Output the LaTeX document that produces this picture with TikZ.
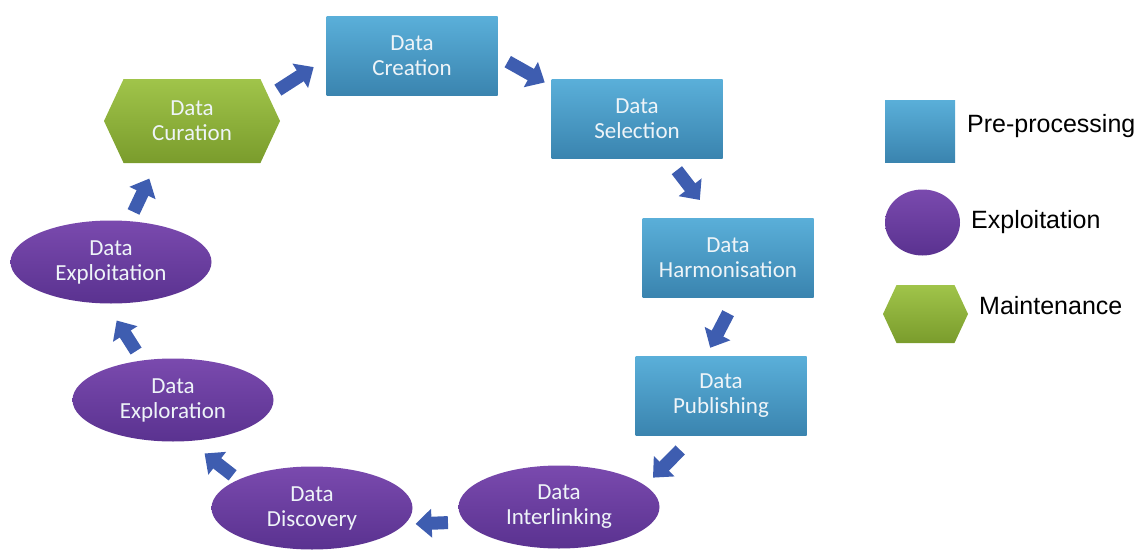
\documentclass[tikz,border=0pt]{standalone}
\usepackage{fontspec}
\setmainfont{Carlito}
\newfontfamily\legendfont{Liberation Sans}
\usetikzlibrary{shapes.geometric,shapes.symbols,arrows.meta}
\definecolor{boxtop}{HTML}{5AAFD9}
\definecolor{boxbot}{HTML}{3A84AF}
\definecolor{purtop}{HTML}{7A4AAE}
\definecolor{purbot}{HTML}{5A3290}
\definecolor{grntop}{HTML}{A0C44A}
\definecolor{grnbot}{HTML}{7A9C2C}
\definecolor{arrowblue}{HTML}{3E5DB0}
\definecolor{nodetext}{HTML}{EEF4F8}
\tikzset{
  stagetext/.style={align=center, text=nodetext, font=\fontsize{23}{25}\selectfont},
  prebox/.style={rectangle, draw=none, inner sep=0pt, top color=boxtop, bottom color=boxbot,
    minimum width=171pt, minimum height=79pt},
  explo/.style={ellipse, draw=none, inner sep=0pt, top color=purtop, bottom color=purbot,
    minimum width=201pt, minimum height=83pt},
  maint/.style={signal, signal to=east and west, signal pointer angle=130, draw=none, inner sep=0pt,
    top color=grntop, bottom color=grnbot, minimum width=176pt, minimum height=84pt},
  blk/.style={line width=13pt, draw=arrowblue, -{Triangle[length=16pt,width=28pt]}},
  legtext/.style={anchor=base west, inner sep=0pt, font=\legendfont\fontsize{25}{28}\selectfont, text=black}
}
\begin{document}
\begin{tikzpicture}[x=1pt,y=-1pt]
\useasboundingbox (0,0) rectangle (1148,551);
% stages
\node[prebox, stagetext] (cre) at (412,56) {Data\\Creation};
\node[prebox, stagetext] (sel) at (637,119) {Data\\Selection};
\node[prebox, stagetext] (har) at (728,257.5) {Data\\Harmonisation};
\node[prebox, stagetext] (pub) at (721,396) {Data\\Publishing};
\node[explo, stagetext] (int) at (559,507) {Data\\Interlinking};
\node[explo, stagetext] (dis) at (312,508) {Data\\Discovery};
\node[explo, stagetext] (exr) at (173,400) {Data\\Exploration};
\node[explo, stagetext] (exi) at (111,262) {Data\\Exploitation};
\node[maint, stagetext] (cur) at (192,121) {Data\\Curation};
% arrows
\draw[blk, shorten <=11pt, shorten >=15pt] (cur.18) -- (cre.182);
\draw[blk, shorten <=11.5pt, shorten >=7.5pt] (cre.east) -- (sel.159);
\draw[blk, shorten <=14.5pt, shorten >=22.5pt] (sel.-52) -- (har.110);
\draw[blk, shorten <=18pt, shorten >=9.6pt] (har.-78) -- (pub.111);
\draw[blk, shorten <=20pt, shorten >=11pt] (pub.236) -- (int.14);
\draw[blk, shorten <=17pt, shorten >=11pt] (int.189) -- (dis.-10);
\draw[blk, shorten <=7pt, shorten >=20pt] (dis.159) -- (exr.-69);
\draw[blk, shorten <=11pt, shorten >=20pt] (exr.128) -- (exi.-97);
\draw[blk, shorten <=10pt, shorten >=17pt] (exi.66) -- (cur.230);
% legend
\node[prebox, minimum width=70pt, minimum height=62pt] (lpre) at (920,131) {};
\node[explo, minimum width=75pt, minimum height=66pt] (lexp) at (922.5,222.5) {};
\node[maint, minimum width=85pt, minimum height=58pt] (lmai) at (925.5,314) {};
\node[legtext] (tpre) at (967,132) {Pre-processing};
\node[legtext] (texp) at (971,228) {Exploitation};
\node[legtext] (tmai) at (979,314) {Maintenance};
\end{tikzpicture}
\end{document}
